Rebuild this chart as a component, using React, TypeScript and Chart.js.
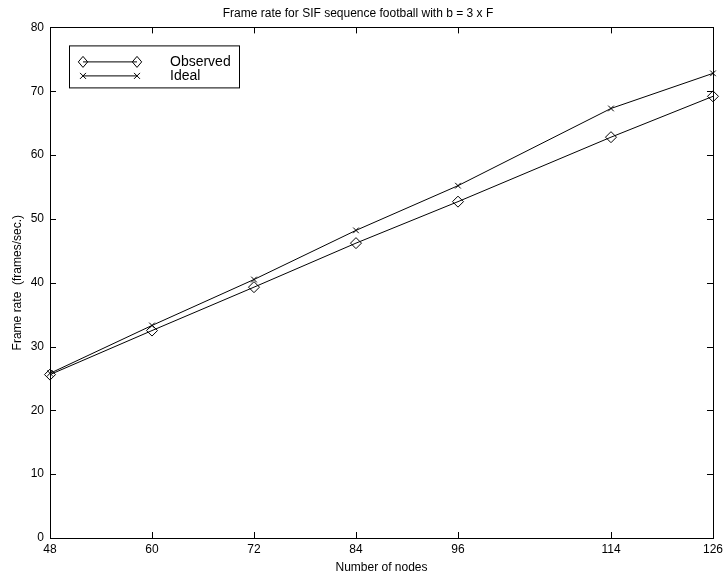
import React, { useEffect, useRef } from "react";
import { Chart, registerables } from "chart.js";

Chart.register(...registerables);

const nodes = [48, 60, 72, 84, 96, 114, 126];
const observed = [25.6, 32.5, 39.3, 46.2, 52.7, 62.8, 69.2];
const ideal = [25.8, 33.3, 40.5, 48.2, 55.2, 67.3, 72.8];
const yTicks = [0, 10, 20, 30, 40, 50, 60, 70, 80];
const seriesNames = ["Observed", "Ideal"];

const FONT = "'Liberation Sans', Arial, Helvetica, sans-serif";

function drawDiamond(ctx: CanvasRenderingContext2D, x: number, y: number, r: number) {
  ctx.beginPath();
  ctx.moveTo(x, y - r);
  ctx.lineTo(x + r * 0.85, y);
  ctx.lineTo(x, y + r);
  ctx.lineTo(x - r * 0.85, y);
  ctx.closePath();
  ctx.stroke();
}
function drawCross(ctx: CanvasRenderingContext2D, x: number, y: number, r: number) {
  ctx.beginPath();
  ctx.moveTo(x - r, y - r);
  ctx.lineTo(x + r, y + r);
  ctx.moveTo(x + r, y - r);
  ctx.lineTo(x - r, y + r);
  ctx.stroke();
}

const boxPlugin = {
  id: "matlabBox",
  afterDraw(chart: any) {
    const { ctx, chartArea } = chart;
    const { left, right, top, bottom } = chartArea;
    const xs = chart.scales.x;
    const ys = chart.scales.y;
    ctx.save();
    ctx.strokeStyle = "#000";
    ctx.lineWidth = 1;
    ctx.strokeRect(Math.round(left) + 0.5, Math.round(top) + 0.5, Math.round(right - left), Math.round(bottom - top));
    const tl = 6;
    ctx.beginPath();
    nodes.forEach((v) => {
      const px = Math.round(xs.getPixelForValue(v)) + 0.5;
      ctx.moveTo(px, bottom);
      ctx.lineTo(px, bottom - tl);
      ctx.moveTo(px, top);
      ctx.lineTo(px, top + tl);
    });
    yTicks.forEach((v) => {
      const py = Math.round(ys.getPixelForValue(v)) + 0.5;
      ctx.moveTo(left, py);
      ctx.lineTo(left + tl, py);
      ctx.moveTo(right, py);
      ctx.lineTo(right - tl, py);
    });
    ctx.stroke();

    // legend
    const lx = left + 19;
    const ly = top + 18;
    const lw = 170;
    const lh = 42;
    ctx.fillStyle = "#fff";
    ctx.fillRect(lx, ly, lw, lh);
    ctx.strokeRect(lx + 0.5, ly + 0.5, lw, lh);
    const rows = [ly + 16, ly + 30];
    const x1 = lx + 14;
    const x2 = lx + 68;
    ctx.lineWidth = 1;
    rows.forEach((ry, i) => {
      ctx.beginPath();
      ctx.moveTo(x1, ry + 0.5);
      ctx.lineTo(x2, ry + 0.5);
      ctx.stroke();
      if (i === 0) {
        drawDiamond(ctx, x1, ry + 0.5, 5.5);
        drawDiamond(ctx, x2, ry + 0.5, 5.5);
      } else {
        drawCross(ctx, x1, ry + 0.5, 3);
        drawCross(ctx, x2, ry + 0.5, 3);
      }
      ctx.fillStyle = "#000";
      ctx.font = `14px ${FONT}`;
      ctx.textBaseline = "middle";
      ctx.textAlign = "left";
      ctx.fillText(seriesNames[i], lx + 101, ry + 1);
    });
    ctx.restore();
  },
};

export default function App() {
  const ref = useRef<HTMLCanvasElement>(null);
  useEffect(() => {
    document.body.style.margin = "0";
    const canvas = ref.current!;
    const chart = new Chart(canvas, {
      type: "line",
      data: {
        datasets: [
          {
            label: seriesNames[0],
            data: nodes.map((n, i) => ({ x: n, y: observed[i] })),
            borderColor: "#000",
            borderWidth: 1,
            backgroundColor: "rgba(0,0,0,0)",
            pointStyle: "rectRot",
            pointRadius: 5.5,
            pointBorderColor: "#000",
            pointBorderWidth: 1,
            pointBackgroundColor: "rgba(0,0,0,0)",
            tension: 0,
            clip: false as any,
          },
          {
            label: seriesNames[1],
            data: nodes.map((n, i) => ({ x: n, y: ideal[i] })),
            borderColor: "#000",
            borderWidth: 1,
            backgroundColor: "rgba(0,0,0,0)",
            pointStyle: "crossRot",
            pointRadius: 4,
            pointBorderColor: "#000",
            pointBorderWidth: 1,
            tension: 0,
            clip: false as any,
          },
        ],
      },
      options: {
        animation: false,
        responsive: false,
        maintainAspectRatio: false,
        layout: { padding: { left: 0, right: 11, top: 0, bottom: 0 } },
        plugins: {
          legend: { display: false },
          tooltip: { enabled: false },
          title: {
            display: true,
            text: "Frame rate for SIF sequence football with b = 3 x F",
            color: "#000",
            font: { family: FONT, size: 12, weight: "normal" as any },
            padding: { top: 6, bottom: 7 },
          },
        },
        scales: {
          x: {
            type: "linear",
            min: 48,
            max: 126,
            afterBuildTicks: (scale: any) => {
              scale.ticks = nodes.map((v) => ({ value: v }));
            },
            afterFit: (scale: any) => {
              scale.height = 42;
            },
            grid: { display: false, drawTicks: false },
            border: { display: false },
            ticks: {
              color: "#000",
              font: { family: FONT, size: 12 },
              padding: 4,
              maxRotation: 0,
              autoSkip: false,
            },
            title: {
              display: true,
              text: "Number of nodes",
              color: "#000",
              font: { family: FONT, size: 12 },
              padding: { top: 0, bottom: 5 },
            },
          },
          y: {
            type: "linear",
            min: 0,
            max: 80,
            afterBuildTicks: (scale: any) => {
              scale.ticks = yTicks.map((v) => ({ value: v }));
            },
            afterFit: (scale: any) => {
              scale.width = 50;
            },
            grid: { display: false, drawTicks: false },
            border: { display: false },
            ticks: {
              color: "#000",
              font: { family: FONT, size: 12 },
              padding: 6,
            },
            title: {
              display: true,
              text: "Frame rate  (frames/sec.)",
              color: "#000",
              font: { family: FONT, size: 12 },
              padding: { top: 10, bottom: 0 },
            },
          },
        },
      },
      plugins: [boxPlugin],
    });
    return () => chart.destroy();
  }, []);
  return <canvas ref={ref} width={727} height={580} style={{ display: "block" }} />;
}
